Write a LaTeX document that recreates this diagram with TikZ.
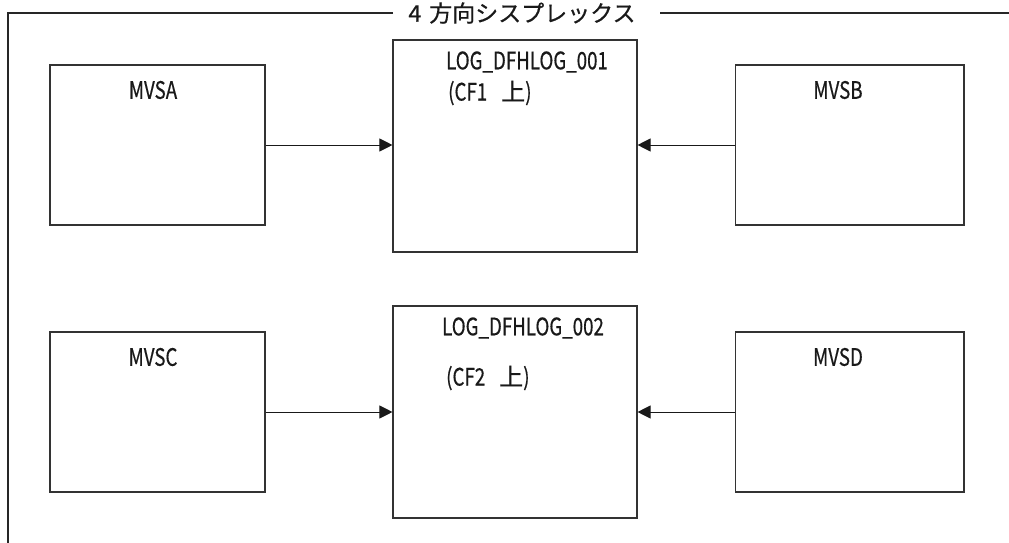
\documentclass[tikz,border=0pt]{standalone}
\usepackage{fontspec}
\newfontfamily\jp{Noto Sans CJK JP}[FakeStretch=0.78,FakeBold=0.5]
\newfontfamily\jpw{Noto Sans CJK JP}[FakeBold=0.5]
\usetikzlibrary{arrows.meta}
\begin{document}
\begin{tikzpicture}[x=1pt,y=-1pt,
  box/.style={draw=black!80,line width=1.1pt,rectangle,inner sep=0pt},
  lbl/.style={inner sep=0pt,font=\jp\fontsize{24}{28}\selectfont,text=black!90},
  ttl/.style={inner sep=0pt,font=\jpw\fontsize{23}{27}\selectfont,text=black!90},
  arr/.style={draw=black!90,line width=1pt,-{Triangle[length=13pt,width=13pt]}},
  frame/.style={draw=black!85,line width=1.1pt}]
\useasboundingbox (0,0) rectangle (1009,543);
% frame and title
\node[ttl] (title) at (522,13) {4\hspace{8pt}方向シスプレックス};
\coordinate (fl) at (393,13);
\coordinate (fr) at (660,13);
\coordinate (fc) at (8,13);
\coordinate (fb) at (8,543);
\coordinate (fe) at (1009,13);
\draw[frame] (fl) -- (fc) -- (fb);
\draw[frame] (fr) -- (fe);
% boxes
\node[box,minimum width=215pt,minimum height=160pt] (A) at (157.5,145) {};
\node[box,minimum width=228.5pt,minimum height=160pt] (B) at (849.75,145) {};
\node[box,minimum width=215pt,minimum height=160pt] (C) at (157.5,412) {};
\node[box,minimum width=228.5pt,minimum height=160pt] (D) at (849.75,412) {};
\node[box,minimum width=244pt,minimum height=212pt] (L1) at (515,146) {};
\node[box,minimum width=244pt,minimum height=212pt] (L2) at (515,412) {};
% labels
\node[lbl] (tA) at (153,90) {MVSA};
\node[lbl] (tB) at (838,90) {MVSB};
\node[lbl] (tC) at (153,357) {MVSC};
\node[lbl] (tD) at (838,357) {MVSD};
\node[lbl] (t1) at (527,62) {LOG\_DFHLOG\_001};
\node[lbl,anchor=west] (c1) at (448,93) {(CF1\hspace{14pt}{\jpw 上})};
\node[lbl] (t2) at (523,328) {LOG\_DFHLOG\_002};
\node[lbl,anchor=west] (c2) at (446,378) {(CF2\hspace{14pt}{\jpw 上})};
% arrows
\draw[arr] (A.east) -- (A.east -| L1.west);
\draw[arr] (B.west) -- (B.west -| L1.east);
\draw[arr] (C.east) -- (C.east -| L2.west);
\draw[arr] (D.west) -- (D.west -| L2.east);
\end{tikzpicture}
\end{document}
